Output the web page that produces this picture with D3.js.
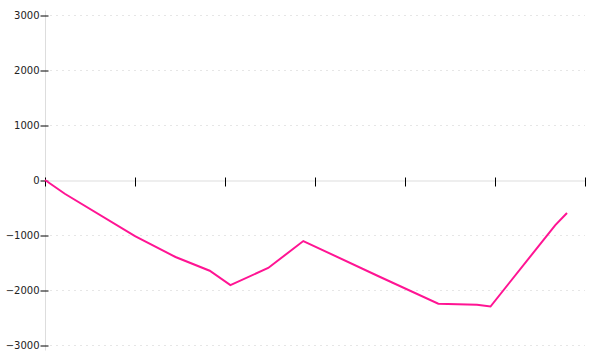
<!DOCTYPE html>
<html>
<head>
<meta charset="utf-8">
<script src="https://cdn.jsdelivr.net/npm/d3@7"></script>
<style>
  body { margin: 0; background: #fff; }
  svg { display: block; }
</style>
</head>
<body>
<svg width="600" height="360"></svg>
<script>
// values
var xs = [0, 0.22, 1.0, 1.45, 1.83, 2.06, 2.48, 2.87, 3.7, 4.37, 4.8, 4.95, 5.67, 5.8];
var ys = [0, -250, -1020, -1400, -1650, -1910, -1600, -1110, -1745, -2250, -2270, -2300, -820, -600];
var xTicks = [0, 1, 2, 3, 4, 5, 6];
var yTicks = [-3000, -2000, -1000, 0, 1000, 2000, 3000];

var svg = d3.select("svg"),
    mLeft = 45, mRight = 585, mTop = 15, mBottom = 345;

var x = d3.scaleLinear().domain([0, 6]).range([mLeft, mRight]);
var y = d3.scaleLinear().domain([-3000, 3000]).range([mBottom, mTop]);

// grid
svg.append("g").selectAll("line")
    .data(yTicks.filter(function(d) { return d !== 0; }))
    .enter().append("line")
    .attr("x1", mLeft + 5).attr("x2", mRight)
    .attr("y1", function(d) { return y(d) + 0.5; })
    .attr("y2", function(d) { return y(d) + 0.5; })
    .attr("stroke", "#e6e6e6")
    .attr("stroke-dasharray", "2,4");

// y axis
var yAxis = svg.append("g").attr("transform", "translate(" + (mLeft + 0.5) + ",0.5)")
    .call(d3.axisLeft(y).tickValues(yTicks).tickFormat(d3.format("d"))
        .tickSize(5).tickSizeOuter(0).tickPadding(1));
yAxis.select(".domain").attr("stroke", "#ddd")
    .attr("d", "M0," + (mTop - 5) + "V" + (mBottom + 5));
yAxis.selectAll(".tick line").attr("x2", 3).attr("x1", -5).attr("stroke", "#000");
yAxis.selectAll(".tick text")
    .attr("font-family", "DejaVu Sans").attr("font-size", 10).attr("fill", "#222");

// x axis at zero
var xAxis = svg.append("g").attr("transform", "translate(0," + (y(0) + 0.5) + ")")
    .call(d3.axisBottom(x).tickValues(xTicks).tickSize(6).tickSizeOuter(0).tickFormat(""));
xAxis.select(".domain").attr("stroke", "#ddd");
xAxis.selectAll(".tick line").attr("y1", -3).attr("y2", 6).attr("stroke", "#000");

// series
var pts = xs.map(function(d, i) { return [d, ys[i]]; });
svg.append("path")
    .datum(pts)
    .attr("fill", "none")
    .attr("stroke", "#ff1493")
    .attr("stroke-width", 2)
    .attr("d", d3.line().x(function(d) { return x(d[0]); }).y(function(d) { return y(d[1]); }));
</script>
</body>
</html>
